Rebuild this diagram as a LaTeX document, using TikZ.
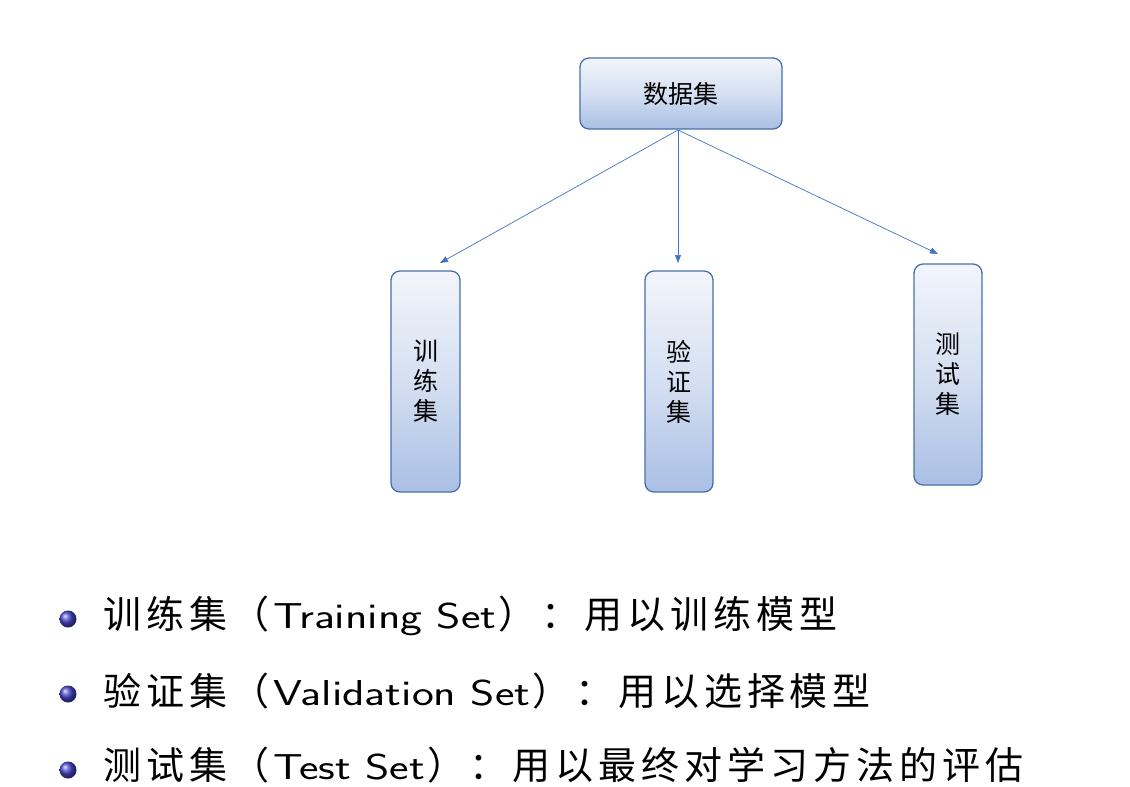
\documentclass[tikz,border=0pt]{standalone}
\usepackage{fontspec}
\usepackage{graphicx}
\newfontfamily\cjk{Noto Sans CJK SC}
\newfontfamily\cjkwide{Noto Sans CJK SC}[LetterSpace=13]
\usetikzlibrary{arrows.meta}
\definecolor{boxline}{HTML}{4A6FA8}
\definecolor{boxtop}{HTML}{F2F5FB}
\definecolor{boxbot}{HTML}{A9BFE4}
\definecolor{arrowc}{HTML}{4472C4}
\definecolor{ballc}{RGB}{70,70,205}
\newcommand{\cjkpart}[1]{{\cjkwide\fontsize{38}{40}\selectfont #1}}
\newcommand{\latpart}[1]{\scalebox{1.29}[1]{\sffamily\fontsize{36}{40}\selectfont #1}}
\tikzset{
  setbox/.style={draw=boxline, line width=1.3pt, rounded corners=9pt,
    top color=boxtop, bottom color=boxbot, middle color=boxtop!60!boxbot,
    inner sep=0pt, font=\cjk\fontsize{25}{30}\selectfont, align=center},
  link/.style={draw=arrowc, line width=0.7pt, -{Triangle[length=8pt,width=6pt]}},
  bullettext/.style={anchor=west, inner sep=0pt},
  ballmark/.style={circle, inner sep=0pt, minimum size=17pt, shading=ball, ball color=ballc}
}
\begin{document}
\begin{tikzpicture}[x=1pt,y=-1pt]
\useasboundingbox[fill=white] (0,0) rectangle (1130,787);
\node[setbox, minimum width=202pt, minimum height=71pt] (data) at (681,93.5) {数据集};
\node[setbox, minimum width=69pt, minimum height=221pt] (train) at (425.5,381.5) {训\\练\\集};
\node[setbox, minimum width=68pt, minimum height=221pt] (val) at (679,381.5) {验\\证\\集};
\node[setbox, minimum width=68pt, minimum height=221pt] (test) at (948,374.5) {测\\试\\集};
\coordinate (src) at (678,130);
\coordinate (t1) at (440,263);
\coordinate (t2) at (678,263);
\coordinate (t3) at (938,254);
\draw[link] (src) -- (t1);
\draw[link] (src) -- (t2);
\draw[link] (src) -- (t3);
\node[ballmark] (b1) at (68,619) {};
\node[ballmark] (b2) at (68,694) {};
\node[ballmark] (b3) at (68,770) {};
\node[bullettext] (l1) at (103,616) {\cjkpart{训练集（}\hspace{3pt}\latpart{Training Set}\hspace{2pt}\cjkpart{）：用以训练模型}};
\node[bullettext] (l2) at (103,691) {\cjkpart{验证集（}\hspace{3pt}\latpart{Validation Set}\hspace{2pt}\cjkpart{）：用以选择模型}};
\node[bullettext] (l3) at (103,765) {\cjkpart{测试集（}\hspace{3pt}\latpart{Test Set}\hspace{2pt}\cjkpart{）：用以最终对学习方法的评估}};
\end{tikzpicture}
\end{document}
